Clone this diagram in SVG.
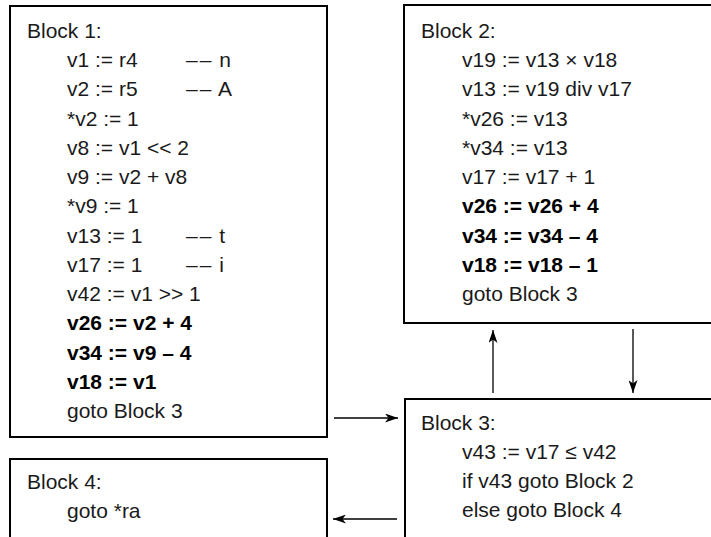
<svg xmlns="http://www.w3.org/2000/svg" width="711" height="537" viewBox="0 0 711 537">
<style>
.box{fill:#fff;stroke:#000;stroke-width:2}
text{font-family:"Liberation Sans",Arial,sans-serif;font-size:21px;fill:#1a1a1a}
.b{font-weight:bold;fill:#000}
.c{letter-spacing:2px}
.edge{stroke:#000;stroke-width:1.3;fill:none;marker-end:url(#ah)}
</style>
<defs>
<marker id="ah" viewBox="0 0 13 9" refX="13" refY="4.5" markerWidth="13" markerHeight="9" markerUnits="userSpaceOnUse" orient="auto">
<path d="M0,0 L13,4.5 L0,9 L3.5,4.5 Z" fill="#000"/>
</marker>
</defs>
<g id="connectors">
<line class="edge" x1="334" y1="418" x2="398" y2="418"/>
<line class="edge" x1="397" y1="519" x2="333" y2="519"/>
<line class="edge" x1="493" y1="393" x2="493" y2="330"/>
<line class="edge" x1="633" y1="329" x2="633" y2="393"/>
</g>
<g id="block1">
<rect class="box" x="10" y="6" width="317" height="431"/>
<text x="27" y="38">Block 1:</text>
<text x="67" y="67">v1 := r4</text><text class="c" x="186" y="67">––<tspan letter-spacing="0"> n</tspan></text>
<text x="67" y="96">v2 := r5</text><text class="c" x="186" y="96">––<tspan letter-spacing="0"> A</tspan></text>
<text x="67" y="126">*v2 := 1</text>
<text x="67" y="155">v8 := v1 &lt;&lt; 2</text>
<text x="67" y="184">v9 := v2 + v8</text>
<text x="67" y="213">*v9 := 1</text>
<text x="67" y="243">v13 := 1</text><text class="c" x="186" y="243">––<tspan letter-spacing="0"> t</tspan></text>
<text x="67" y="272">v17 := 1</text><text class="c" x="186" y="272">––<tspan letter-spacing="0"> i</tspan></text>
<text x="67" y="301">v42 := v1 &gt;&gt; 1</text>
<text class="b" x="67" y="330">v26 := v2 + 4</text>
<text class="b" x="67" y="360">v34 := v9 – 4</text>
<text class="b" x="67" y="389">v18 := v1</text>
<text x="67" y="418">goto Block 3</text>
</g>
<g id="block2">
<rect class="box" x="404" y="5" width="340" height="318"/>
<text x="421" y="38">Block 2:</text>
<text x="462" y="67">v19 := v13 × v18</text>
<text x="462" y="96">v13 := v19 div v17</text>
<text x="462" y="126">*v26 := v13</text>
<text x="462" y="155">*v34 := v13</text>
<text x="462" y="184">v17 := v17 + 1</text>
<text class="b" x="462" y="213">v26 := v26 + 4</text>
<text class="b" x="462" y="243">v34 := v34 – 4</text>
<text class="b" x="462" y="272">v18 := v18 – 1</text>
<text x="462" y="301">goto Block 3</text>
</g>
<g id="block3">
<rect class="box" x="405" y="399" width="340" height="200"/>
<text x="421" y="430">Block 3:</text>
<text x="462" y="459">v43 := v17 ≤ v42</text>
<text x="462" y="488">if v43 goto Block 2</text>
<text x="462" y="517">else goto Block 4</text>
</g>
<g id="block4">
<rect class="box" x="10" y="459" width="317" height="140"/>
<text x="27" y="489">Block 4:</text>
<text x="67" y="518">goto *ra</text>
</g>
</svg>
